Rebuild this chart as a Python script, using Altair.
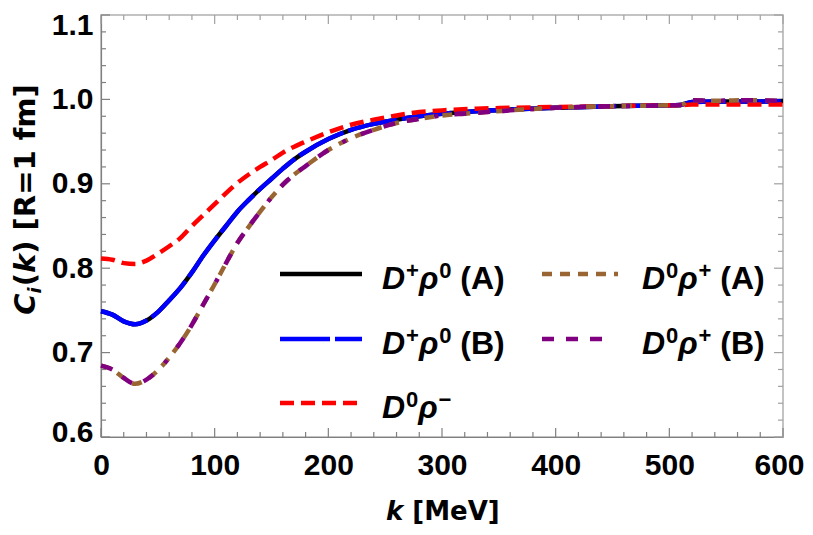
import altair as alt
import pandas as pd

# ---------------- data ----------------
K = [0, 10, 20, 30, 40, 50, 60, 70, 80, 90, 100, 110, 120, 130, 140, 150, 160, 170, 180,
     200, 220, 240, 260, 280, 300, 330, 360, 400, 450, 500, 510, 520, 540, 570, 600]

DPRHO0_A = [0.749, 0.745, 0.737, 0.7335, 0.738, 0.748, 0.762, 0.777, 0.795, 0.815, 0.833, 0.850,
            0.867, 0.881, 0.894, 0.906, 0.918, 0.929, 0.938, 0.953, 0.964, 0.971, 0.976, 0.980,
            0.983, 0.986, 0.988, 0.990, 0.992, 0.993, 0.9935, 0.997, 0.9975, 0.9975, 0.998]
DPRHO0_B = [0.749, 0.745, 0.737, 0.7335, 0.738, 0.748, 0.762, 0.777, 0.795, 0.815, 0.833, 0.850,
            0.867, 0.881, 0.894, 0.906, 0.918, 0.929, 0.938, 0.953, 0.964, 0.971, 0.976, 0.980,
            0.983, 0.986, 0.988, 0.990, 0.992, 0.993, 0.9935, 0.997, 0.9975, 0.9975, 0.998]
D0RHOM = [0.8115, 0.810, 0.806, 0.805, 0.809, 0.817, 0.826, 0.836, 0.850, 0.863, 0.876, 0.889,
          0.901, 0.911, 0.920, 0.928, 0.937, 0.944, 0.950, 0.961, 0.970, 0.976, 0.981, 0.985,
          0.987, 0.989, 0.990, 0.991, 0.992, 0.993, 0.993, 0.994, 0.994, 0.994, 0.994]
D0RHOP_A = [0.6846, 0.680, 0.670, 0.663, 0.668, 0.679, 0.694, 0.712, 0.733, 0.757, 0.781, 0.806,
            0.830, 0.849, 0.867, 0.884, 0.899, 0.911, 0.921, 0.940, 0.954, 0.964, 0.972, 0.977,
            0.981, 0.984, 0.987, 0.990, 0.992, 0.993, 0.9935, 0.999, 0.9985, 0.999, 0.998]
D0RHOP_B = [0.6846, 0.680, 0.670, 0.663, 0.668, 0.679, 0.694, 0.712, 0.733, 0.757, 0.781, 0.806,
            0.830, 0.849, 0.867, 0.884, 0.899, 0.911, 0.921, 0.940, 0.954, 0.964, 0.972, 0.977,
            0.981, 0.984, 0.987, 0.990, 0.992, 0.993, 0.9935, 0.999, 0.9985, 0.999, 0.998]

SERIES = ["Dp_rho0_A", "Dp_rho0_B", "D0_rhom", "D0_rhop_A", "D0_rhop_B"]
SERIES_VALUES = [DPRHO0_A, DPRHO0_B, D0RHOM, D0RHOP_A, D0RHOP_B]

X_MAJOR = [0, 100, 200, 300, 400, 500, 600]
X_MINOR = [20, 40, 60, 80, 120, 140, 160, 180, 220, 240, 260, 280, 320, 340, 360, 380,
           420, 440, 460, 480, 520, 540, 560, 580]
Y_MAJOR = [0.6, 0.7, 0.8, 0.9, 1.0, 1.1]
Y_MINOR = [0.62, 0.64, 0.66, 0.68, 0.72, 0.74, 0.76, 0.78, 0.82, 0.84, 0.86, 0.88,
           0.92, 0.94, 0.96, 0.98, 1.02, 1.04, 1.06, 1.08]

# legend labels as rich-text pieces: (text, kind)  kind: i=italic, n=normal, sup=superscript
LEGEND_LABELS = [
    [("D", "i"), ("+", "sup"), ("ρ", "i"), ("0", "sup"), ("(A)", "n")],
    [("D", "i"), ("+", "sup"), ("ρ", "i"), ("0", "sup"), ("(B)", "n")],
    [("D", "i"), ("0", "sup"), ("ρ", "i"), ("−", "sup")],
    [("D", "i"), ("0", "sup"), ("ρ", "i"), ("+", "sup"), ("(A)", "n")],
    [("D", "i"), ("0", "sup"), ("ρ", "i"), ("+", "sup"), ("(B)", "n")],
]
X_TITLE = [("k", "i"), ("[MeV]", "n")]
Y_TITLE = [("C", "i"), ("i", "sub"), ("(", "n"), ("k", "i"), (") [R=1 fm]", "n")]

# ---------------- styles / layout ----------------
FONT = "Liberation Sans, Arial, Helvetica, sans-serif"
TFONT = "DejaVu Sans"
W, H = 682, 422
STYLES = [
    dict(color="#000000"),
    dict(color="#0000ff", strokeDash=[50, 5]),
    dict(color="#ff0000", strokeDash=[14, 7]),
    dict(color="#996633", strokeDash=[10, 8]),
    dict(color="#800080", strokeDash=[12, 12, 12, 12, 12, 16, 4, 16]),
]
LW = 4.5

EM = {'D': .722, '+': .584, 'ρ': .60, '0': .556, '−': .584, '(': .333, ')': .333, 'A': .722,
      'B': .722, ' ': .278, 'k': .556}
EM_DV = {'C': .734, 'i': .343, '(': .457, 'k': .665, ')': .457, ' ': .348, '[': .457, 'R': .770,
         '=': .838, '1': .696, 'f': .435, 'm': 1.042, ']': .457, 'M': .995, 'e': .678, 'V': .774}


def tw(s, size, table=EM):
    return sum(table.get(c, 0.6) for c in s) * size


rows = []
for name, vals in zip(SERIES, SERIES_VALUES):
    for k, v in zip(K, vals):
        rows.append({"s": name, "k": k, "v": v})
df = pd.DataFrame(rows)

xscale = alt.Scale(domain=[0, 600], nice=False, zero=False)
yscale = alt.Scale(domain=[0.6, 1.1], nice=False, zero=False)
common_axis = dict(labelFont=FONT, labelFontSize=30, labelFontWeight="bold", labelColor="black",
                   ticks=False, tickSize=0, grid=False, title=None, labelFlush=False,
                   labelOverlap=False, domainColor="#808080", domainWidth=1.2)
XENC = alt.X("k:Q", scale=xscale,
             axis=alt.Axis(values=X_MAJOR, format="d", labelPadding=13,
                           labelOffset={"condition": {"test": "datum.value > 590", "value": -4},
                                        "value": 0},
                           **common_axis))
YENC = alt.Y("v:Q", scale=yscale,
             axis=alt.Axis(values=Y_MAJOR, format=".1f", labelPadding=8,
                           labelOffset={"condition": [{"test": "datum.value > 1.05", "value": 10},
                                                      {"test": "datum.value < 0.65", "value": -5}],
                                        "value": 0},
                           **common_axis))

layers = []


def xticks(vals, length, top, color):
    d = pd.DataFrame({"k": vals})
    if top:
        yy = dict(y=alt.value(0), y2=alt.value(length))
    else:
        yy = dict(y=alt.value(H), y2=alt.value(H - length))
    return alt.Chart(d).mark_rule(color=color, strokeWidth=1.2).encode(x=XENC, **yy)


def yticks(vals, length, right, color):
    d = pd.DataFrame({"v": vals})
    if right:
        xx = dict(x=alt.value(W), x2=alt.value(W - length))
    else:
        xx = dict(x=alt.value(0), x2=alt.value(length))
    return alt.Chart(d).mark_rule(color=color, strokeWidth=1.2).encode(y=YENC, **xx)


layers += [xticks(X_MAJOR, 9, False, "#808080"), xticks(X_MINOR, 5, False, "#808080"),
           xticks(X_MAJOR, 9, True, "#a0a0a0"), xticks(X_MINOR, 5, True, "#a0a0a0"),
           yticks(Y_MAJOR, 9, False, "#808080"), yticks(Y_MINOR, 5, False, "#808080"),
           yticks(Y_MAJOR, 9, True, "#a0a0a0"), yticks(Y_MINOR, 5, True, "#a0a0a0")]

# curves
for name, st in zip(SERIES, STYLES):
    layers.append(
        alt.Chart(df).transform_filter(alt.datum.s == name)
        .mark_line(strokeWidth=LW, interpolate="monotone", strokeCap="butt", **st)
        .encode(x=XENC, y=YENC)
    )


def text_piece(t, x, y, size, italic, angle=0, font=FONT):
    kw = dict(align="left", baseline="alphabetic", font=font, fontSize=size, fontWeight="bold",
              fontStyle="italic" if italic else "normal", color="black")
    if angle:
        kw["angle"] = angle
    return (alt.Chart(alt.Data(values=[{"t": t}])).mark_text(**kw)
            .encode(x=alt.value(x), y=alt.value(y), text="t:N"))


# legend
LEG_FS, SUP_FS = 32, 22
COLS = [(179, 261, 281), (441, 517, 541)]
ROWS = [259, 324, 388]
POS = [(0, 0), (0, 1), (0, 2), (1, 0), (1, 1)]
for label, st, (ci, ri) in zip(LEGEND_LABELS, STYLES, POS):
    x1, x2, lx = COLS[ci]
    yc = ROWS[ri]
    layers.append(alt.Chart(alt.Data(values=[{"a": 0}]))
                  .mark_rule(strokeWidth=LW, strokeCap="butt", **st)
                  .encode(x=alt.value(x1), x2=alt.value(x2), y=alt.value(yc)))
    base = yc + 15
    cx = lx
    for t, kind in label:
        if kind == "sup":
            layers.append(text_piece(t, cx + 1, base - 11, SUP_FS, False))
            cx += tw(t, SUP_FS) + 1
        elif kind == "i":
            layers.append(text_piece(t, cx, base, LEG_FS, True))
            cx += tw(t, LEG_FS)
        else:
            cx += tw(" ", LEG_FS)
            layers.append(text_piece(t, cx, base, LEG_FS, False))
            cx += tw(t, LEG_FS)

# x title
XT_FS = 26
cx, by = 285, 505
for t, kind in X_TITLE:
    layers.append(text_piece(t, cx, by, XT_FS, kind == "i", font=TFONT))
    cx += tw(t, XT_FS, EM_DV) + tw(" ", XT_FS, EM_DV)

# y title (rotated, reading upward), centred near plot y = 185
YT_FS, YSUB_FS = 29, 18
total = sum(tw(t, YSUB_FS if k == "sub" else YT_FS, EM_DV) for t, k in Y_TITLE)
bx, cy = -66, 185 + total / 2
for t, kind in Y_TITLE:
    if kind == "sub":
        layers.append(text_piece(t, bx + 6, cy, YSUB_FS, True, angle=270, font=TFONT))
        cy -= tw(t, YSUB_FS, EM_DV) + 1
    else:
        layers.append(text_piece(t, bx, cy, YT_FS, kind == "i", angle=270, font=TFONT))
        cy -= tw(t, YT_FS, EM_DV)

chart = (alt.layer(*layers)
         .properties(width=W, height=H, background="white",
                     padding={"left": 93, "top": 7, "right": 22, "bottom": 88},
                     autosize=alt.AutoSizeParams(type="none"))
         .configure_view(stroke="#b0b0b0", strokeWidth=1.5))

chart.save("out.html", embed_options={"renderer": "svg", "actions": False})
